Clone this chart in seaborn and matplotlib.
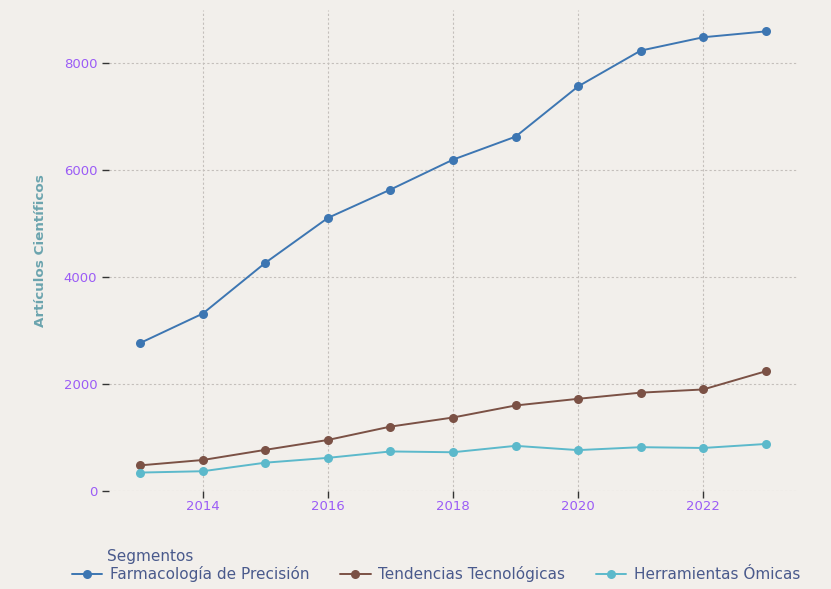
import pandas as pd
import matplotlib.pyplot as plt
import seaborn as sns

# =====================================================
# Data
# =====================================================

years = list(range(2013, 2024))

farmacologia = [2770, 3320, 4270, 5110, 5640, 6200, 6630, 7570, 8240, 8490, 8600]
tendencias = [480, 580, 770, 955, 1205, 1375, 1600, 1725, 1840, 1900, 2240]
omicas = [345, 370, 530, 620, 740, 725, 845, 765, 820, 805, 880]

segments = [
    "Farmacología de Precisión",
    "Tendencias Tecnológicas",
    "Herramientas Ómicas",
]

colors = ["#3d76b2", "#7b5145", "#5cb9cb"]

df = pd.DataFrame({
    "Año": years * 3,
    "Artículos": farmacologia + tendencias + omicas,
    "Segmentos": [s for s in segments for _ in years],
})

# =====================================================
# Setup
# =====================================================

bg = "#f2efeb"
sns.set_theme(style="white")
plt.rcParams["font.family"] = ["DejaVu Sans"]

fig = plt.figure(figsize=(8.31, 5.89), dpi=100, facecolor=bg)
ax = fig.add_axes([109 / 831, 98 / 589, (797 - 109) / 831, (491 - 10) / 589])
ax.set_facecolor(bg)

sns.lineplot(
    data=df,
    x="Año",
    y="Artículos",
    hue="Segmentos",
    palette=colors,
    marker="o",
    markersize=6.5,
    markeredgewidth=0,
    linewidth=1.4,
    ax=ax,
)

ax.set_xlim(2012.5, 2023.5)
ax.set_ylim(0, 9000)
ax.set_xticks([2014, 2016, 2018, 2020, 2022])
ax.set_yticks([0, 2000, 4000, 6000, 8000])

ax.grid(True, color="#c4bfbb", linestyle=(0, (2, 2)), linewidth=0.8)
for s in ax.spines.values():
    s.set_visible(False)

ax.tick_params(
    axis="both",
    colors="#333333",
    labelcolor="#9b5cf6",
    labelsize=9.5,
    length=5,
    width=1,
    left=True,
    bottom=True,
)
ax.tick_params(axis="x", pad=1.5)

ax.set_xlabel("")
ax.set_ylabel(
    "Artículos Científicos",
    color="#6ba4ae",
    fontsize=9.7,
    fontweight="bold",
    labelpad=12,
)

ax.get_legend().remove()
handles, labels = ax.get_legend_handles_labels()
leg = fig.legend(
    handles,
    labels,
    loc="lower left",
    bbox_to_anchor=(58 / 831, -0.012),
    ncol=3,
    frameon=False,
    fontsize=11,
    handlelength=2.0,
    columnspacing=2.0,
    handletextpad=0.5,
)
for t in leg.get_texts():
    t.set_color("#4a5a8c")

fig.text(107 / 831, 1 - 556 / 589, "Segmentos", color="#4a5a8c",
         fontsize=11, va="center", ha="left")

plt.savefig("out.png", dpi=100, facecolor=bg)
plt.close()
